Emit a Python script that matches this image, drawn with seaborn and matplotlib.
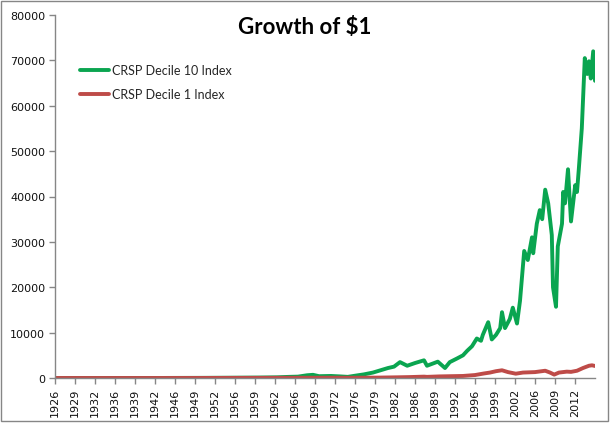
import numpy as np
import pandas as pd
import matplotlib
matplotlib.use("Agg")
import matplotlib.pyplot as plt
from matplotlib.patches import Rectangle
import seaborn as sns

# data (decimal year, value)
decile10_years = [1926.0, 1929.5, 1932.5, 1937.0, 1942.0, 1946.0, 1950.0, 1955.0,
                  1960.0, 1963.0, 1965.0, 1966.5, 1968.0, 1969.0, 1970.0, 1972.0,
                  1973.5, 1974.8, 1976.0, 1977.5, 1979.0, 1980.0, 1981.5, 1982.5,
                  1983.5, 1984.7, 1986.0, 1987.5, 1988.0, 1989.8, 1991.0, 1991.8,
                  1993.0, 1994.0, 1994.7, 1995.5, 1996.3, 1997.0, 1997.3, 1998.2,
                  1998.8, 1999.5, 2000.2, 2000.5, 2001.0, 2001.8, 2002.3, 2003.0,
                  2003.5, 2004.2, 2004.8, 2005.5, 2005.7, 2006.3, 2006.8, 2007.2,
                  2007.7, 2008.2, 2008.8, 2009.0, 2009.5, 2009.8, 2010.5, 2010.7,
                  2011.0, 2011.5, 2012.0, 2012.7, 2013.0, 2013.3, 2013.8, 2014.3,
                  2014.7, 2015.0, 2015.3, 2015.7, 2016.0]
decile10_values = [1, 3, 1, 5, 3, 20, 30, 60,
                   100, 150, 250, 300, 600, 700, 400, 450,
                   350, 250, 500, 800, 1200, 1600, 2200, 2500,
                   3500, 2700, 3300, 3900, 2700, 3600, 2200, 3500,
                   4300, 5000, 6000, 7000, 8700, 8200, 9500, 12300,
                   8500, 9500, 11000, 14500, 11000, 13000, 15500, 12000,
                   17000, 28000, 26000, 31000, 27500, 34000, 37000, 35000,
                   41500, 38500, 31500, 20000, 15700, 29000, 34000, 41000,
                   38500, 46000, 34500, 42500, 41000, 46000, 55000, 70500,
                   67000, 69800, 66000, 72000, 65500]

decile1_years = [1926.0, 1929.5, 1932.5, 1937.0, 1942.0, 1946.0, 1950.0, 1955.0,
                 1960.0, 1965.0, 1970.0, 1973.0, 1975.0, 1980.0, 1983.0, 1985.0,
                 1987.5, 1988.0, 1990.0, 1992.0, 1994.0, 1996.0, 1997.5, 1998.5,
                 1999.5, 2000.5, 2001.5, 2002.8, 2004.0, 2006.0, 2007.7, 2008.5,
                 2009.2, 2010.0, 2011.3, 2012.0, 2013.0, 2014.0, 2015.0, 2015.5,
                 2016.0]
decile1_values = [1, 3, 1, 3, 2, 6, 8, 20,
                  30, 50, 55, 65, 50, 90, 150, 200,
                  300, 250, 350, 400, 450, 650, 1000, 1200,
                  1500, 1700, 1300, 950, 1200, 1300, 1600, 1200,
                  750, 1200, 1400, 1350, 1600, 2200, 2700, 2800,
                  2650]

tick_labels = ["1926", "1929", "1932", "1936", "1939", "1942", "1946", "1949",
               "1952", "1956", "1959", "1962", "1966", "1969", "1972", "1976",
               "1979", "1982", "1986", "1989", "1992", "1996", "1999", "2002",
               "2006", "2009", "2012"]
y_ticks = [0, 10000, 20000, 30000, 40000, 50000, 60000, 70000, 80000]

green = "#0AA550"
red = "#BE4B48"
grey = "#868686"

sns.set_style("white")
plt.rcParams["font.family"] = ["DejaVu Sans"]

fig = plt.figure(figsize=(6.12, 4.27), dpi=100)
ax = fig.add_axes([55 / 612, 1 - 379 / 427, 540 / 612, 363 / 427])

sns.lineplot(x=decile10_years, y=decile10_values, color=green, lw=2.8,
             label="CRSP Decile 10 Index", ax=ax)
sns.lineplot(x=decile1_years, y=decile1_values, color=red, lw=2.8,
             label="CRSP Decile 1 Index", ax=ax)

# category ticks every 40 months, as in the spreadsheet
tick_pos = [1926 + k * 40 / 12 for k in range(len(tick_labels))]
ax.set_xticks(tick_pos)
ax.set_xticklabels(tick_labels, rotation=90, fontsize=8)
ax.set_xlim(1926, 2016)
ax.set_yticks(y_ticks)
ax.set_yticklabels([str(v) for v in y_ticks], fontsize=8)
ax.set_ylim(0, 80000)

for side in ["top", "right"]:
    ax.spines[side].set_visible(False)
for side in ["left", "bottom"]:
    ax.spines[side].set_color(grey)
    ax.spines[side].set_linewidth(1)
ax.tick_params(axis="both", direction="out", length=4, width=1, color=grey,
               labelcolor="#111111", pad=3,
               bottom=True, left=True)

leg = ax.legend(loc="upper left", bbox_to_anchor=(80 / 612, 1 - 65 / 427),
                bbox_transform=fig.transFigure, frameon=False,
                prop={"family": "Lato", "size": 9},
                borderpad=0, borderaxespad=0, handlelength=2.3,
                handletextpad=0.3, labelspacing=1.0)

fig.text(0.498, 1 - 27 / 427, "Growth of $1", ha="center", va="center",
         fontsize=16, fontweight="bold", family="Lato", color="black")

fig.patches.append(Rectangle((1 / 612, 1 - 422 / 427), 607 / 612, 420 / 427,
                             transform=fig.transFigure, fill=False,
                             edgecolor=grey, lw=1))

fig.savefig("out.png", dpi=100)
